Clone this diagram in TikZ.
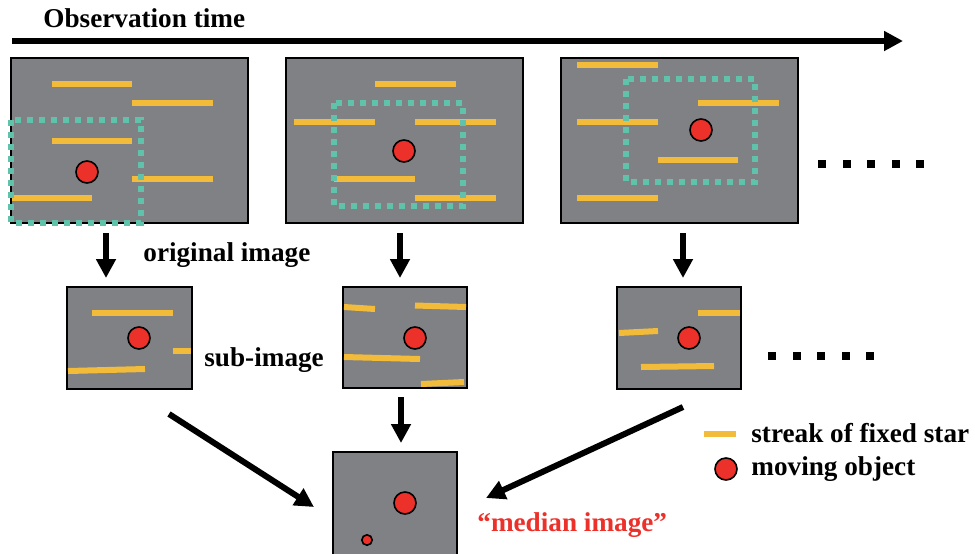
\documentclass[tikz,border=0pt]{standalone}
\usepackage{fontspec}
\setmainfont{Liberation Serif}
\usetikzlibrary{arrows.meta}

\definecolor{skygray}{RGB}{128,129,132}
\definecolor{streakyellow}{RGB}{242,188,58}
\definecolor{boxteal}{RGB}{96,194,170}
\definecolor{objred}{RGB}{236,49,42}

\tikzset{
  imgbox/.style={draw=black, line width=1pt, fill=skygray},
  streak/.style={streakyellow, line width=3pt},
  cutbox/.style={boxteal, line width=3pt, dash pattern=on 3pt off 3pt},
  object/.style={draw=black, line width=0.8pt, fill=objred},
  bigarrow/.style={line width=3pt, -{Triangle[length=9.5pt, width=9.5pt]}},
  lbl/.style={font=\fontsize{13.6}{16}\selectfont\bfseries, inner sep=0pt, anchor=base west},
}

\begin{document}
\begin{tikzpicture}[x=0.5pt,y=-0.5pt]
\useasboundingbox (0,0) rectangle (975,553);

\node[lbl] (title) at (43,27) {Observation time};
\coordinate (t0) at (12,41);
\coordinate (t1) at (903,41);
\draw[bigarrow] (t0) -- (t1);

% first original image
\draw[imgbox] (11,58) rectangle (248,223);
\draw[streak] (52,84)  -- (132,84);
\draw[streak] (132,103) -- (213,103);
\draw[streak] (52,141) -- (132,141);
\draw[streak] (132,179) -- (213,179);
\draw[streak] (12,198) -- (92,198);
\draw[cutbox] (11,120) rectangle (141,223);
\draw[object] (87,172) circle[radius=5.5pt];

% second original image
\draw[imgbox] (286,58) rectangle (523,223);
\draw[streak] (375,84)  -- (456,84);
\draw[streak] (294,122) -- (375,122);
\draw[streak] (415,122) -- (496,122);
\draw[streak] (334,179) -- (415,179);
\draw[streak] (415,198) -- (496,198);
\draw[cutbox] (334,103) rectangle (463,206);
\draw[object] (404,151) circle[radius=5.5pt];

% third original image
\draw[imgbox] (561,58) rectangle (798,223);
\draw[streak] (577,65)  -- (658,65);
\draw[streak] (698,103) -- (779,103);
\draw[streak] (577,122) -- (658,122);
\draw[streak] (658,160) -- (738,160);
\draw[streak] (577,198) -- (658,198);
\draw[cutbox] (626,79) rectangle (755,182);
\draw[object] (701,130) circle[radius=5.5pt];

\foreach \i in {0,...,4}
  \fill (822+24.5*\i,164) ++(-4,-4) rectangle ++(8,8);

\node[lbl] (orig) at (143,261) {original image};

% arrows down to the sub-images
\coordinate (o1) at (106,233);
\coordinate (s1) at (106,278);
\coordinate (o2) at (400,233);
\coordinate (s2) at (400,278);
\coordinate (o3) at (683,233);
\coordinate (s3) at (683,278);
\draw[bigarrow] (o1) -- (s1);
\draw[bigarrow] (o2) -- (s2);
\draw[bigarrow] (o3) -- (s3);

% sub-images
\draw[imgbox] (67,287) rectangle (192,389);
\draw[streak] (92,313) -- (173,313);
\draw[streak] (173,351) -- (191,351);
\draw[streak] (68,371) -- (145,369);
\draw[object] (139,338) circle[radius=5.5pt];

\draw[imgbox] (343,287) rectangle (467,388);
\draw[streak] (344,307) -- (375,309);
\draw[streak] (415,305.5) -- (466,307);
\draw[streak] (344,357) -- (420,359);
\draw[streak] (421,384) -- (464,382);
\draw[object] (415,338) circle[radius=5.5pt];

\draw[imgbox] (617,287) rectangle (741,389);
\draw[streak] (619,333) -- (658,331);
\draw[streak] (698,313) -- (740,313);
\draw[streak] (641,367) -- (714,366);
\draw[object] (689,338) circle[radius=5.5pt];

\node[lbl] (sub) at (204,366) {sub-image};

\foreach \i in {0,...,4}
  \fill (772+24.5*\i,356) ++(-4,-4) rectangle ++(8,8);

% arrows to the median image
\coordinate (m1) at (169,414);
\coordinate (n1) at (314,507);
\coordinate (m2) at (401,397);
\coordinate (n2) at (401,443);
\coordinate (m3) at (683,407);
\coordinate (n3) at (486,498);
\draw[bigarrow] (m1) -- (n1);
\draw[bigarrow] (m2) -- (n2);
\draw[bigarrow] (m3) -- (n3);

% median image
\draw[imgbox] (333,452) rectangle (457,560);
\draw[object] (405,503) circle[radius=5.5pt];
\draw[object] (367,540) circle[radius=2.6pt];
\node[lbl, text=objred] (median) at (477,531) {“median image”};

% legend
\draw[streak] (704,434) -- (736,434);
\node[lbl] (legstreak) at (751,442) {streak of fixed star};
\draw[object] (726,469) circle[radius=5.5pt];
\node[lbl] (legobj) at (751,475) {moving object};

\end{tikzpicture}
\end{document}
